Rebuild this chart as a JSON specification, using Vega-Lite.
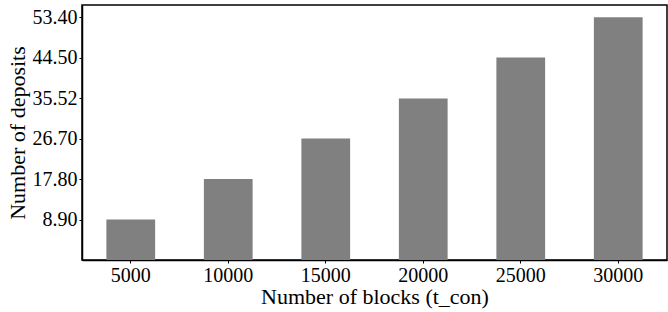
{
  "$schema": "https://vega.github.io/schema/vega-lite/v6.json",
  "width": 585,
  "height": 255,
  "autosize": "none",
  "padding": {"left": 82, "top": 5, "right": 1, "bottom": 52},
  "background": "white",
  "data": {"values": [
    {"blocks": "5000", "deposits": 8.90},
    {"blocks": "10000", "deposits": 17.80},
    {"blocks": "15000", "deposits": 26.70},
    {"blocks": "20000", "deposits": 35.52},
    {"blocks": "25000", "deposits": 44.50},
    {"blocks": "30000", "deposits": 53.40}
  ]},
  "mark": {"type": "bar", "color": "#808080"},
  "encoding": {
    "x": {
      "field": "blocks", "type": "ordinal", "sort": null,
      "scale": {"paddingInner": 0.5, "paddingOuter": 0.25},
      "axis": {"title": "Number of blocks (t_con)", "labelAngle": 0, "labelPadding": 2, "titlePadding": 1}
    },
    "y": {
      "field": "deposits", "type": "quantitative",
      "scale": {"domain": [0, 56.07], "nice": false},
      "axis": {"title": "Number of deposits", "values": [8.90, 17.80, 26.70, 35.52, 44.50, 53.40], "format": ".2f", "grid": false, "labelPadding": 2, "titlePadding": 3}
    }
  },
  "config": {
    "font": "Liberation Serif",
    "view": {"stroke": "black", "strokeWidth": 1.5},
    "axis": {
      "labelFont": "Liberation Serif", "titleFont": "Liberation Serif",
      "labelFontSize": 20, "titleFontSize": 22, "titleFontWeight": "normal",
      "labelColor": "black", "titleColor": "black",
      "domainColor": "black", "tickColor": "black", "tickSize": 3, "domainWidth": 1.5
    }
  }
}
